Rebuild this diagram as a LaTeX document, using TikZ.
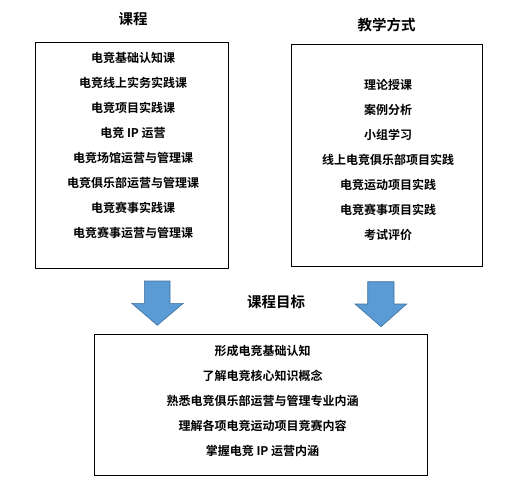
\documentclass[tikz,border=0pt]{standalone}
\usepackage{fontspec}
\newfontfamily\cjk{Noto Sans CJK SC}[BoldFont={Noto Sans CJK SC Bold}]
\usepackage{tikz}

\definecolor{arrowblue}{HTML}{5B9BD5}
\definecolor{arrowedge}{HTML}{41719C}

\tikzset{
	item/.style={font=\cjk\bfseries\fontsize{12}{14}\selectfont, inner sep=0pt},
	heading/.style={font=\cjk\bfseries\fontsize{14.5}{17}\selectfont, inner sep=0pt},
	blockarrow/.style={fill=arrowblue, draw=arrowedge, line width=0.6pt}
}

\begin{document}
\begin{tikzpicture}[x=1pt, y=-1pt]
		\useasboundingbox (0, 0) rectangle (519, 485);

		% Headings
		\node[heading] (course) at (133, 19) {课程};
		\node[heading] (method) at (386.5, 25) {教学方式};
		\node[heading] (goal) at (276, 301.5) {课程目标};

		% Course box
		\draw[line width=0.8pt] (35.5, 42.3) rectangle (228.5, 268.3);
		\node[item] (c1) at (133, 58.3) {电竞基础认知课};
		\node[item] (c2) at (133, 83.3) {电竞线上实务实践课};
		\node[item] (c3) at (133, 108.3) {电竞项目实践课};
		\node[item] (c4) at (133, 133.3) {电竞 IP 运营};
		\node[item] (c5) at (133, 158.3) {电竞场馆运营与管理课};
		\node[item] (c6) at (133, 183.3) {电竞俱乐部运营与管理课};
		\node[item] (c7) at (133, 208.3) {电竞赛事实践课};
		\node[item] (c8) at (133, 233.3) {电竞赛事运营与管理课};

		% Method box
		\draw[line width=0.8pt] (291.3, 44) rectangle (482.3, 266);
		\node[item] (m1) at (388, 85) {理论授课};
		\node[item] (m2) at (388, 110) {案例分析};
		\node[item] (m3) at (388, 135) {小组学习};
		\node[item] (m4) at (388, 160) {线上电竞俱乐部项目实践};
		\node[item] (m5) at (388, 185) {电竞运动项目实践};
		\node[item] (m6) at (388, 210) {电竞赛事项目实践};
		\node[item] (m7) at (388, 235) {考试评价};

		% Block arrows
		\draw[blockarrow] (144.3, 281) -- (170, 281) -- (170, 303.3) -- (183.3, 303.3)
			-- (157.3, 325.3) -- (131.7, 303.3) -- (144.3, 303.3) -- cycle;
		\draw[blockarrow] (367.7, 281.7) -- (394, 281.7) -- (394, 304) -- (406.7, 304)
			-- (381, 326.7) -- (355, 304) -- (367.7, 304) -- cycle;

		% Goal box
		\draw[line width=0.8pt] (94.3, 334.3) rectangle (427.7, 475);
		\node[item] (g1) at (262.5, 351) {形成电竞基础认知};
		\node[item] (g2) at (262.5, 376) {了解电竞核心知识概念};
		\node[item] (g3) at (262.5, 401) {熟悉电竞俱乐部运营与管理专业内涵};
		\node[item] (g4) at (262.5, 426) {理解各项电竞运动项目竞赛内容};
		\node[item] (g5) at (262.5, 451) {掌握电竞 IP 运营内涵};

	\end{tikzpicture}
\end{document}
